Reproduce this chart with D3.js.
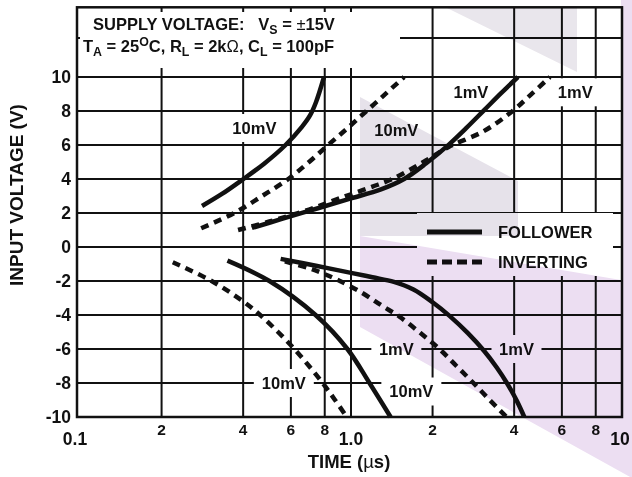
<!DOCTYPE html>
<html lang="en">
<head>
<meta charset="UTF-8">
<title>Input Voltage vs Time</title>
<script src="https://d3js.org/d3.v7.min.js"></script>
<style>
    body { margin: 0; padding: 0; background: #fff; }
    svg { display: block; }
    text { font-family: "Liberation Sans", Arial, sans-serif; font-weight: bold; fill: #111; }
</style>
</head>
<body>
<div id="chart"></div>
<script>
    // settling curves, [time (us), input voltage (V)]
    const follower10mVPos = [[0.282, 2.41], [0.334, 3.12], [0.396, 3.94], [0.478, 4.9], [0.571, 5.97], [0.659, 7.07], [0.706, 7.74], [0.742, 8.5], [0.795, 10]];
    const inverting10mVPos = [[0.28, 1.1], [0.371, 2], [0.47, 3], [0.587, 4], [0.7, 5.0], [0.83, 6.05], [0.98, 7.05], [1.15, 8.05], [1.35, 9.05], [1.57, 10]];
    const follower1mVPos = [[0.431, 1.12], [0.556, 1.65], [0.755, 2.28], [1.0, 2.86], [1.29, 3.39], [1.57, 4.0], [1.89, 4.91], [2.28, 5.98], [2.66, 6.99], [3.1, 8.05], [3.58, 9.05], [4.13, 10]];
    const inverting1mVPos = [[0.383, 1.0], [0.5, 1.5], [0.7, 2.2], [0.85, 2.7], [1.0, 3.1], [1.2, 3.55], [1.42, 4], [1.85, 5], [2.3, 5.9], [3.08, 6.8], [3.92, 7.96], [4.6, 8.95], [5.42, 10]];

    const follower10mVNeg = [[0.35, -0.8], [0.5, -2.0], [0.74, -4], [0.97, -6], [1.17, -8], [1.4, -10]];
    const inverting10mVNeg = [[0.22, -0.9], [0.306, -2], [0.4, -3.2], [0.462, -4], [0.538, -5], [0.618, -6], [0.7, -7], [0.786, -8], [0.873, -9], [0.965, -10]];
    const follower1mVNeg = [[0.55, -0.7], [0.75, -1.12], [1.0, -1.52], [1.2, -1.78], [1.44, -2.05], [1.7, -2.5], [2.0, -3.25], [2.31, -4.05], [2.7, -5.07], [3.1, -6.12], [3.45, -7.09], [3.78, -8.06], [4.1, -9.08], [4.36, -10]];
    const inverting1mVNeg = [[0.57, -0.85], [0.7, -1.25], [0.8, -1.6], [0.91, -2], [1.1, -2.7], [1.3, -3.45], [1.51, -4.1], [1.8, -5.05], [2.12, -6], [2.45, -7], [2.83, -8], [3.25, -9], [3.75, -10]];

    const solidCurves = [follower10mVPos, follower1mVPos, follower10mVNeg, follower1mVNeg];
    const dashedCurves = [inverting10mVPos, inverting1mVPos, inverting10mVNeg, inverting1mVNeg];

    // axes
    const yGrid = [-8, -6, -4, -2, 0, 2, 4, 6, 8, 10, 12.3];
    const yTicks = [-10, -8, -6, -4, -2, 0, 2, 4, 6, 8, 10];
    const xGrid = [0.2, 0.4, 0.6, 0.8, 1, 2, 4, 6, 8];
    const xMinorTicks = [0.2, 0.4, 0.6, 0.8, 2, 4, 6, 8];
    const xMinorLabels = ["2", "4", "6", "8", "2", "4", "6", "8"];
    const xDecades = [0.1, 1, 10];
    const xDecadeLabels = ["0.1", "1.0", "10"];

    // curve labels, placed at [time, volts]
    const labelTexts = ["10mV", "10mV", "1mV", "1mV", "1mV", "1mV", "10mV", "10mV"];
    const labelAt = [[0.44, 7.0], [1.47, 6.9], [2.77, 9.1], [6.72, 9.1], [1.47, -6], [4.08, -6], [1.67, -8.5], [0.565, -8]];

    const legendNames = ["FOLLOWER", "INVERTING"];

    const width = 632, height = 477;
    const svg = d3.select("#chart").append("svg")
        .attr("width", width)
        .attr("height", height);

    const x = d3.scaleLog().domain([0.1, 10]).range([80, 622]);
    const y = d3.scaleLinear().domain([-10, 10]).range([417, 77]);
    const yTop = y(14.1);
    const left = 77;

    // grid
    svg.append("g").selectAll("line").data(xGrid).join("line")
        .attr("x1", d => x(d)).attr("x2", d => x(d))
        .attr("y1", yTop).attr("y2", y(-10))
        .attr("stroke", "#111").attr("stroke-width", 2);
    svg.append("g").selectAll("line").data(yGrid).join("line")
        .attr("x1", left).attr("x2", x(10))
        .attr("y1", d => y(d)).attr("y2", d => y(d))
        .attr("stroke", "#111").attr("stroke-width", 2);

    // white boxes that break the grid
    svg.append("rect").attr("x", 80).attr("y", 12).attr("width", 320).attr("height", 56).attr("fill", "#fff");
    svg.append("rect").attr("x", 417).attr("y", 213).attr("width", 196).attr("height", 63).attr("fill", "#fff");

    const labels = svg.append("g");
    labelTexts.forEach((t, i) => {
        const cx = x(labelAt[i][0]), cy = y(labelAt[i][1]);
        const w = t.length * 10 + 20;
        labels.append("rect")
            .attr("x", cx - w / 2).attr("y", cy - 14)
            .attr("width", w).attr("height", 28)
            .attr("fill", "#fff");
    });

    // frame
    svg.append("rect")
        .attr("x", left).attr("y", yTop)
        .attr("width", x(10) - left).attr("height", y(-10) - yTop)
        .attr("fill", "none").attr("stroke", "#111").attr("stroke-width", 2.5);

    // curves
    const line = d3.line()
        .x(d => x(d[0]))
        .y(d => y(d[1]))
        .curve(d3.curveCatmullRom.alpha(0.5));

    svg.append("g").selectAll("path").data(solidCurves).join("path")
        .attr("d", line)
        .attr("fill", "none").attr("stroke", "#111").attr("stroke-width", 4.5);
    svg.append("g").selectAll("path").data(dashedCurves).join("path")
        .attr("d", line)
        .attr("fill", "none").attr("stroke", "#111").attr("stroke-width", 4.5)
        .attr("stroke-dasharray", "8,6");

    labelTexts.forEach((t, i) => {
        labels.append("text")
            .attr("x", x(labelAt[i][0])).attr("y", y(labelAt[i][1]))
            .attr("dy", "0.36em")
            .attr("text-anchor", "middle")
            .attr("font-size", 16.5)
            .text(t);
    });

    // legend
    const legend = svg.append("g");
    legendNames.forEach((name, i) => {
        const ly = 232 + i * 30;
        legend.append("line")
            .attr("x1", 427).attr("x2", 482).attr("y1", ly).attr("y2", ly)
            .attr("stroke", "#111").attr("stroke-width", 5)
            .attr("stroke-dasharray", i === 0 ? null : "10,5");
        legend.append("text")
            .attr("x", 498).attr("y", ly).attr("dy", "0.36em")
            .attr("font-size", 16.5)
            .text(name);
    });

    // tick labels
    svg.append("g").selectAll("text").data(yTicks).join("text")
        .attr("x", 71).attr("y", d => y(d)).attr("dy", "0.36em")
        .attr("text-anchor", "end").attr("font-size", 17.5)
        .text(d => d);
    svg.append("g").selectAll("text").data(xMinorTicks).join("text")
        .attr("x", d => x(d)).attr("y", 435)
        .attr("text-anchor", "middle").attr("font-size", 15.5)
        .text((d, i) => xMinorLabels[i]);
    svg.append("g").selectAll("text").data(xDecades).join("text")
        .attr("x", (d, i) => i === 0 ? 75 : x(d) - (i === 2 ? 2 : 0)).attr("y", 445)
        .attr("text-anchor", "middle").attr("font-size", 17.5)
        .text((d, i) => xDecadeLabels[i]);

    // rich text helper for subscripts / superscripts
    function richText(tx, ty, parts, size, anchor) {
        const t = svg.append("text")
            .attr("x", tx).attr("y", ty)
            .attr("font-size", size)
            .attr("text-anchor", anchor || "start")
            .style("white-space", "pre");
        let shift = 0;
        parts.forEach(p => {
            const target = p.sub ? 4 : p.sup ? -6 : 0;
            const s = t.append("tspan")
                .attr("dy", target - shift)
                .text(p.t);
            if (p.sub || p.sup) s.attr("font-size", size * 0.75);
            if (p.plain) s.style("font-weight", "normal");
            shift = target;
        });
        return t;
    }

    richText(93, 30, [
        { t: "SUPPLY VOLTAGE:   V" }, { t: "S", sub: true }, { t: " = " },
        { t: "\u00b1", plain: true }, { t: "15V" }
    ], 16.5);
    richText(83, 52, [
        { t: "T" }, { t: "A", sub: true }, { t: " = 25" }, { t: "O", sup: true },
        { t: "C, R" }, { t: "L", sub: true }, { t: " = 2k" }, { t: "\u03a9", plain: true },
        { t: ", C" }, { t: "L", sub: true }, { t: " = 100pF" }
    ], 16.5);

    richText(349, 468, [{ t: "TIME (" }, { t: "\u00b5", plain: true }, { t: "s)" }], 18.5, "middle");

    svg.append("text")
        .attr("transform", "translate(23,195) rotate(-90)")
        .attr("text-anchor", "middle")
        .attr("font-size", 19)
        .text("INPUT VOLTAGE (V)");

    // faint watermark laid over the page
    const mark = svg.append("g").style("mix-blend-mode", "multiply");
    mark.append("polygon")
        .attr("points", "360,97 518,181 518,236 360,236")
        .attr("fill", "#e6e2ea");
    mark.append("polygon")
        .attr("points", "447,8 577,8 577,72")
        .attr("fill", "#e9e6ec");
    mark.append("polygon")
        .attr("points", "360,236 621,280 621,0 632,0 632,478 360,327")
        .attr("fill", "#ecdef2");
</script>
</body>
</html>
